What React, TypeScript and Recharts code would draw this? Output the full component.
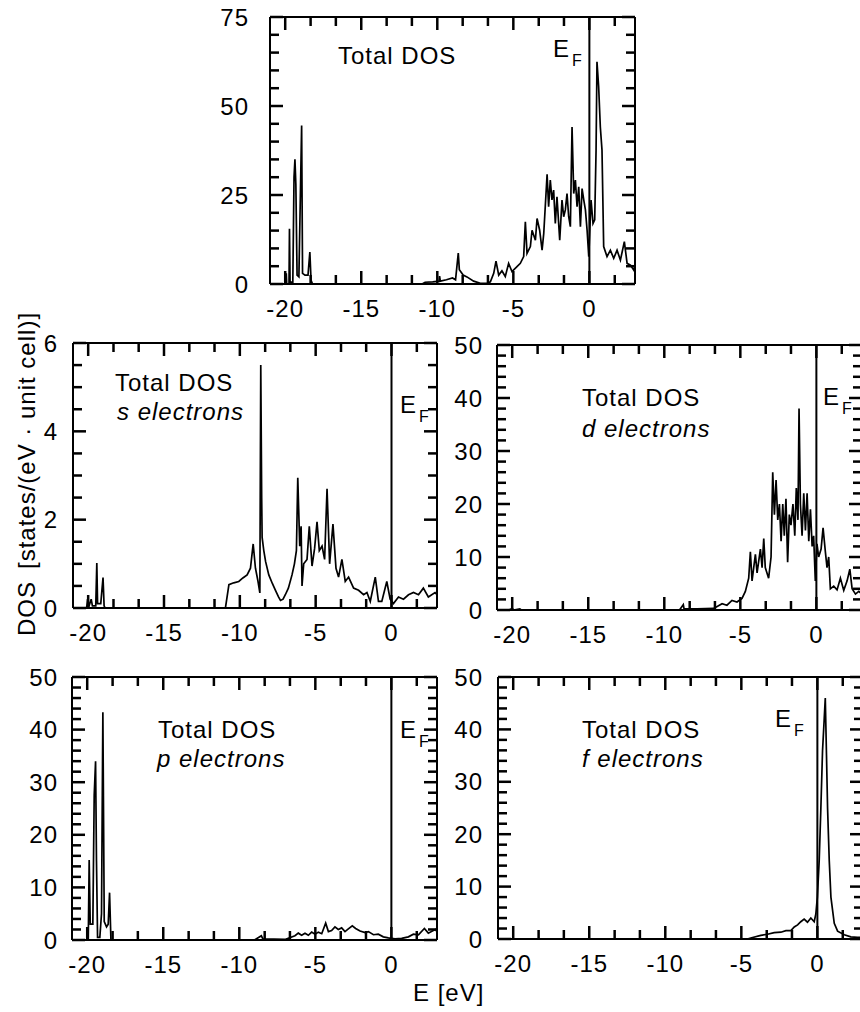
import React from 'react';
import { LineChart, Line, XAxis, YAxis, ReferenceLine } from 'recharts';

const FONT = '"Liberation Sans", Arial, Helvetica, sans-serif';

type Pt = [number, number];

// energy axis (eV) – minor ticks and labelled ones
const eDomain: [number, number] = [-21, 3];
const eTicks = [-20, -18.33, -16.67, -15, -13.33, -11.67, -10, -8.33, -6.67, -5, -3.33, -1.67, 0, 1.67];
const eLabels = [-20, -15, -10, -5, 0];

// y ticks per panel
const totalTicks = [0, 5, 10, 15, 20, 25, 30, 35, 40, 45, 50, 55, 60, 65, 70, 75];
const totalLabels = [0, 25, 50, 75];
const sTicks = [0, 0.5, 1, 1.5, 2, 2.5, 3, 3.5, 4, 4.5, 5, 5.5, 6];
const sLabels = [0, 2, 4, 6];
const fiftyTicks = [0, 2, 4, 6, 8, 10, 12, 14, 16, 18, 20, 22, 24, 26, 28, 30, 32, 34, 36, 38, 40, 42, 44, 46, 48, 50];
const fiftyLabels = [0, 10, 20, 30, 40, 50];

// [E (eV), DOS]
const totalDos: Pt[] = [
  [-20.0, 0], [-19.93, 3], [-19.9, 0], [-19.75, 0], [-19.72, 15.5], [-19.68, 0.5], [-19.5, 0.5],
  [-19.42, 30], [-19.36, 35], [-19.3, 28], [-19.22, 2.5], [-19.1, 2], [-18.92, 44.5], [-18.86, 3],
  [-18.7, 2.5], [-18.5, 2.5], [-18.38, 9], [-18.3, 1], [-18.2, 0],
  [-11.0, 0], [-10.8, 0.5], [-10.3, 0.6], [-9.88, 0.8], [-9.85, 2.2], [-9.8, 0.8], [-9.4, 1.2],
  [-9.0, 1.7], [-8.8, 1.2], [-8.62, 8.7], [-8.55, 4], [-8.3, 2.5], [-8.05, 2.0], [-7.61, 0.8],
  [-7.17, 0.2], [-6.73, 0.2], [-6.51, 0.6], [-6.29, 3.0], [-6.14, 6.4], [-5.96, 2.5], [-5.75, 3.7],
  [-5.53, 2.1], [-5.31, 5.8], [-5.09, 3.5], [-4.76, 4.9], [-4.54, 5.8], [-4.32, 7.7], [-4.21, 17.5],
  [-4.1, 8.6], [-3.88, 10.5], [-3.77, 15.1], [-3.55, 12.3], [-3.44, 18.4], [-3.27, 15.1], [-3.11, 9.5],
  [-3.0, 14.2], [-2.78, 30.8], [-2.68, 21.7], [-2.57, 29.2], [-2.46, 23.6], [-2.35, 26.4], [-2.24, 17],
  [-2.13, 24.5], [-1.95, 12.3], [-1.8, 23.6], [-1.69, 18.9], [-1.58, 20.8], [-1.47, 25.4], [-1.36, 18.9],
  [-1.25, 16.1], [-1.14, 44.1], [-1.03, 25.4], [-0.92, 29.2], [-0.81, 21.7], [-0.7, 27.3], [-0.59, 16.1],
  [-0.48, 26.8], [-0.37, 23.6], [-0.26, 20.8], [-0.15, 15.1], [-0.04, 7.7], [0.11, 23.6], [0.24, 17],
  [0.35, 18], [0.44, 37.6], [0.5, 62.4], [0.61, 55.4], [0.72, 44.1], [0.83, 37.6], [0.94, 10.5],
  [1.16, 7.7], [1.38, 9.5], [1.6, 7.2], [1.82, 9.5], [2.04, 6.7], [2.3, 11.9], [2.48, 5.8],
  [2.7, 5.3], [2.92, 3.9], [3.0, 5.3],
];

const sDos: Pt[] = [
  [-20.1, 0], [-20.04, 0.2], [-19.94, 0.05], [-19.8, 0.2], [-19.72, 0.05], [-19.5, 0.05], [-19.43, 1.02],
  [-19.38, 0.1], [-19.17, 0.1], [-19.02, 0.69], [-18.95, 0.05], [-18.88, 0],
  [-10.95, 0], [-10.72, 0.53], [-10.4, 0.57], [-10.07, 0.6], [-9.8, 0.68], [-9.52, 0.75], [-9.3, 0.9],
  [-9.12, 1.45], [-8.97, 0.9], [-8.8, 0.6], [-8.68, 0.34], [-8.62, 5.5], [-8.56, 2.5], [-8.53, 1.6],
  [-8.42, 1.3], [-8.3, 1.05], [-8.09, 0.75], [-7.85, 0.55], [-7.65, 0.4], [-7.45, 0.25], [-7.32, 0.17],
  [-7.15, 0.2], [-7.0, 0.3], [-6.8, 0.45], [-6.56, 0.75], [-6.4, 1.0], [-6.27, 1.3], [-6.18, 2.95],
  [-6.05, 1.4], [-5.96, 1.85], [-5.9, 0.5], [-5.79, 1.0], [-5.57, 1.1], [-5.42, 1.85], [-5.24, 0.95],
  [-5.07, 1.35], [-4.91, 1.95], [-4.76, 1.3], [-4.58, 1.4], [-4.41, 1.1], [-4.25, 2.7], [-4.08, 1.0],
  [-3.86, 1.9], [-3.66, 0.9], [-3.49, 0.7], [-3.27, 1.1], [-3.05, 0.6], [-2.83, 0.7], [-2.5, 0.45],
  [-2.17, 0.4], [-1.84, 0.3], [-1.62, 0.35], [-1.4, 0.15], [-1.07, 0.7], [-0.86, 0.15], [-0.64, 0.15],
  [-0.31, 0.6], [-0.09, 0.2], [0.13, 0.1], [0.46, 0.25], [0.79, 0.2], [1.12, 0.3], [1.45, 0.35],
  [1.78, 0.3], [2.1, 0.45], [2.43, 0.25], [2.87, 0.35], [3.0, 0.3],
];

const dDos: Pt[] = [
  [-20.2, 0], [-20.0, 0.3], [-19.9, 0], [-19.5, 0.2], [-19.4, 0],
  [-9.0, 0], [-8.75, 1], [-8.7, 0.2], [-7.85, 0.2], [-6.75, 0.3], [-6.2, 1.2], [-5.88, 0.9],
  [-5.55, 1.8], [-5.22, 1.5], [-4.89, 2.2], [-4.67, 3.5], [-4.45, 6], [-4.34, 11], [-4.23, 5.5],
  [-4.01, 10.5], [-3.9, 7], [-3.68, 11.5], [-3.57, 8], [-3.46, 13.5], [-3.36, 8], [-3.14, 6],
  [-2.98, 10], [-2.87, 26], [-2.76, 18], [-2.65, 24.5], [-2.54, 17], [-2.43, 20], [-2.32, 13],
  [-2.21, 20], [-2.11, 14], [-2.0, 21], [-1.89, 9], [-1.78, 18], [-1.67, 16], [-1.54, 20],
  [-1.42, 14], [-1.32, 23], [-1.21, 17], [-1.14, 38], [-1.05, 20], [-0.94, 14], [-0.83, 22],
  [-0.72, 15], [-0.61, 22], [-0.5, 13], [-0.39, 19], [-0.28, 12], [-0.18, 14], [-0.07, 5.5],
  [0.04, 12.5], [0.15, 10], [0.31, 11.5], [0.44, 15.5], [0.59, 11], [0.7, 8], [0.81, 10],
  [0.92, 4], [1.14, 4.5], [1.36, 3.8], [1.58, 6], [1.8, 3.7], [2.02, 5.5], [2.2, 7.7],
  [2.35, 4], [2.57, 3], [2.79, 3.5], [3.0, 3],
];

const pDos: Pt[] = [
  [-20.1, 0], [-19.93, 0], [-19.87, 15.2], [-19.8, 3], [-19.63, 3], [-19.54, 27.5], [-19.45, 34],
  [-19.39, 15], [-19.32, 0.5], [-19.17, 0.5], [-19.06, 5], [-18.97, 43.3], [-18.88, 3.5], [-18.73, 2.5],
  [-18.62, 3], [-18.53, 9], [-18.44, 0],
  [-9.0, 0], [-8.55, 0.8], [-8.45, 0.2], [-7.0, 0.1], [-6.34, 0.8], [-6.12, 1.3], [-5.9, 0.9],
  [-5.68, 1.3], [-5.46, 0.9], [-5.24, 1.5], [-5.02, 1.1], [-4.8, 1.5], [-4.58, 1.2], [-4.32, 3.2],
  [-4.14, 1.6], [-3.93, 1.8], [-3.71, 2.5], [-3.49, 2], [-3.27, 2.3], [-3.05, 1.6], [-2.83, 2.1],
  [-2.57, 2.7], [-2.35, 2.2], [-2.06, 1.7], [-1.73, 1.4], [-1.51, 1.6], [-1.18, 1.0], [-0.86, 1.1],
  [-0.53, 0.6], [-0.2, 0.4], [0.24, 0.2], [0.68, 0.3], [1.12, 0.6], [1.45, 1.1], [1.78, 1.0],
  [2.17, 2.2], [2.43, 1.3], [2.76, 1.8], [2.92, 2], [3.0, 1.5],
];

const fDos: Pt[] = [
  [-21, 0], [-4.6, 0], [-4.38, 0.2], [-3.72, 0.7], [-3.28, 0.9], [-2.84, 1.2], [-2.4, 1.3],
  [-2.07, 1.6], [-1.74, 1.6], [-1.52, 2.3], [-1.3, 2.7], [-1.09, 3.3], [-0.87, 3.8], [-0.65, 3.2],
  [-0.43, 4], [-0.21, 3.3], [-0.1, 4.8], [0.0, 8], [0.12, 15], [0.23, 25], [0.34, 36], [0.45, 42],
  [0.52, 46], [0.6, 35], [0.67, 25], [0.78, 15], [0.89, 8], [1.11, 3], [1.33, 1.5], [1.77, 0.8],
  [2.2, 0.4], [2.64, 0.3], [3.0, 0.3],
];

const axisStyle = { stroke: '#000', strokeWidth: 2 };
const txt = { fontFamily: FONT, fontSize: 24, letterSpacing: 1, fill: '#000' } as const;

// inward tick lengths, px
const MINOR = 9;
const MAJOR = 13;

interface PanelProps {
  left: number;
  top: number;
  width: number;
  height: number;
  yMax: number;
  yTicks: number[];
  yLabels: number[];
  labelGap: number;
  points: Pt[];
}

// reserved room for each axis (px); plot rect = chart minus these
const AX_L = 68, AX_B = 43, AX_T = 10, AX_R = 8, PAD = 2;

// inward tick marks on all four sides, drawn as short reference segments
const tickMarks = (yMax: number, yTicks: number[], yLabels: number[], w: number, h: number) => {
  const eSpan = eDomain[1] - eDomain[0];
  const dy = (len: number) => (yMax * len) / h;
  const dx = (len: number) => (eSpan * len) / w;
  const out: React.ReactNode[] = [];
  eTicks.forEach((t, i) => {
    const len = eLabels.includes(t) ? MAJOR : MINOR;
    out.push(
      <ReferenceLine key={`b${i}`} xAxisId="b" yAxisId="l" stroke="#000" strokeWidth={2.5}
        segment={[{ x: t, y: 0 }, { x: t, y: dy(len) }]} />,
      <ReferenceLine key={`t${i}`} xAxisId="b" yAxisId="l" stroke="#000" strokeWidth={2.5}
        segment={[{ x: t, y: yMax }, { x: t, y: yMax - dy(len) }]} />,
    );
  });
  yTicks.forEach((v, i) => {
    const len = yLabels.includes(v) ? MAJOR : MINOR;
    out.push(
      <ReferenceLine key={`l${i}`} xAxisId="b" yAxisId="l" stroke="#000" strokeWidth={2.5}
        segment={[{ x: eDomain[0], y: v }, { x: eDomain[0] + dx(len), y: v }]} />,
      <ReferenceLine key={`r${i}`} xAxisId="b" yAxisId="l" stroke="#000" strokeWidth={2.5}
        segment={[{ x: eDomain[1], y: v }, { x: eDomain[1] - dx(len), y: v }]} />,
    );
  });
  return out;
};

const Panel = ({ left, top, width, height, yMax, yTicks, yLabels, labelGap, points }: PanelProps) => {
  const data = points.map(([E, dos]) => ({ E, dos }));

  const bottomTick = (p: any) =>
    eLabels.includes(p.payload.value) ? (
      <text x={p.x} y={p.y + 33} textAnchor="middle" {...txt}>{p.payload.value}</text>
    ) : (
      <g />
    );
  const leftTick = (p: any) =>
    yLabels.includes(p.payload.value) ? (
      <text x={p.x - labelGap} y={p.y + 8.5} textAnchor="end" {...txt}>{p.payload.value}</text>
    ) : (
      <g />
    );

  return (
    <div style={{ position: 'absolute', left: left - AX_L - PAD, top: top - AX_T - PAD }}>
      <LineChart
        width={width + AX_L + AX_R + 2 * PAD}
        height={height + AX_T + AX_B + 2 * PAD}
        data={data}
        margin={{ top: PAD, right: PAD, bottom: PAD, left: PAD }}
      >
        <XAxis xAxisId="b" dataKey="E" type="number" domain={eDomain} allowDataOverflow ticks={eTicks}
          interval={0} height={AX_B} tickSize={0} tickMargin={0} tickLine={false} axisLine={axisStyle} tick={bottomTick} />
        <XAxis xAxisId="t" orientation="top" dataKey="E" type="number" domain={eDomain} allowDataOverflow ticks={eTicks}
          interval={0} height={AX_T} tickSize={0} tickMargin={0} tickLine={false} axisLine={axisStyle} tick={false} />
        <YAxis yAxisId="l" type="number" domain={[0, yMax]} allowDataOverflow ticks={yTicks}
          interval={0} width={AX_L} tickSize={0} tickMargin={0} tickLine={false} axisLine={axisStyle} tick={leftTick} />
        <YAxis yAxisId="r" orientation="right" type="number" domain={[0, yMax]} allowDataOverflow ticks={yTicks}
          interval={0} width={AX_R} tickSize={0} tickMargin={0} tickLine={false} axisLine={axisStyle} tick={false} />
        {tickMarks(yMax, yTicks, yLabels, width, height)}
        <ReferenceLine xAxisId="b" yAxisId="l" x={0} stroke="#000" strokeWidth={2} />
        <Line xAxisId="b" yAxisId="l" type="linear" dataKey="dos" stroke="#000" strokeWidth={1.7}
          dot={false} activeDot={false} isAnimationActive={false} />
      </LineChart>
    </div>
  );
};

const Ef = ({ x, y }: { x: number; y: number }) => (
  <g>
    <text x={x} y={y} {...txt}>E</text>
    <text x={x + 19} y={y + 9} {...txt} fontSize={16} letterSpacing={0}>F</text>
  </g>
);

export default function App() {
  return (
    <div style={{ position: 'absolute', left: 0, top: 0, width: 860, height: 1012, overflow: 'hidden', background: '#fff' }}>
      <Panel left={270} top={17} width={365} height={267} yMax={75} yTicks={totalTicks} yLabels={totalLabels} labelGap={21} points={totalDos} />
      <Panel left={73} top={343} width={364} height={265} yMax={6} yTicks={sTicks} yLabels={sLabels} labelGap={15} points={sDos} />
      <Panel left={497} top={345} width={365} height={265} yMax={50} yTicks={fiftyTicks} yLabels={fiftyLabels} labelGap={14} points={dDos} />
      <Panel left={72} top={677} width={365} height={263} yMax={50} yTicks={fiftyTicks} yLabels={fiftyLabels} labelGap={14} points={pDos} />
      <Panel left={498} top={677} width={365} height={262} yMax={50} yTicks={fiftyTicks} yLabels={fiftyLabels} labelGap={15} points={fDos} />

      <svg width={860} height={1012} style={{ position: 'absolute', left: 0, top: 0, pointerEvents: 'none' }}>
        <text x={338} y={64} {...txt}>Total DOS</text>
        <Ef x={553} y={57} />

        <text x={115} y={391} {...txt}>Total DOS</text>
        <text x={117} y={420} {...txt} fontStyle="italic">s electrons</text>
        <Ef x={400} y={413} />

        <text x={582} y={406} {...txt}>Total DOS</text>
        <text x={582} y={437} {...txt} fontStyle="italic">d electrons</text>
        <Ef x={823} y={405} />

        <text x={158} y={738} {...txt}>Total DOS</text>
        <text x={157} y={767} {...txt} fontStyle="italic">p electrons</text>
        <Ef x={400} y={738} />

        <text x={582} y={738} {...txt}>Total DOS</text>
        <text x={582} y={767} {...txt} fontStyle="italic">f electrons</text>
        <Ef x={775} y={727} />

        <text x={35} y={474} transform="rotate(-90 35 474)" textAnchor="middle" {...txt}>
          DOS<tspan dx={12}>[states/(eV · unit cell)]</tspan>
        </text>
        <text x={413} y={1001} {...txt}>E [eV]</text>
      </svg>
    </div>
  );
}
